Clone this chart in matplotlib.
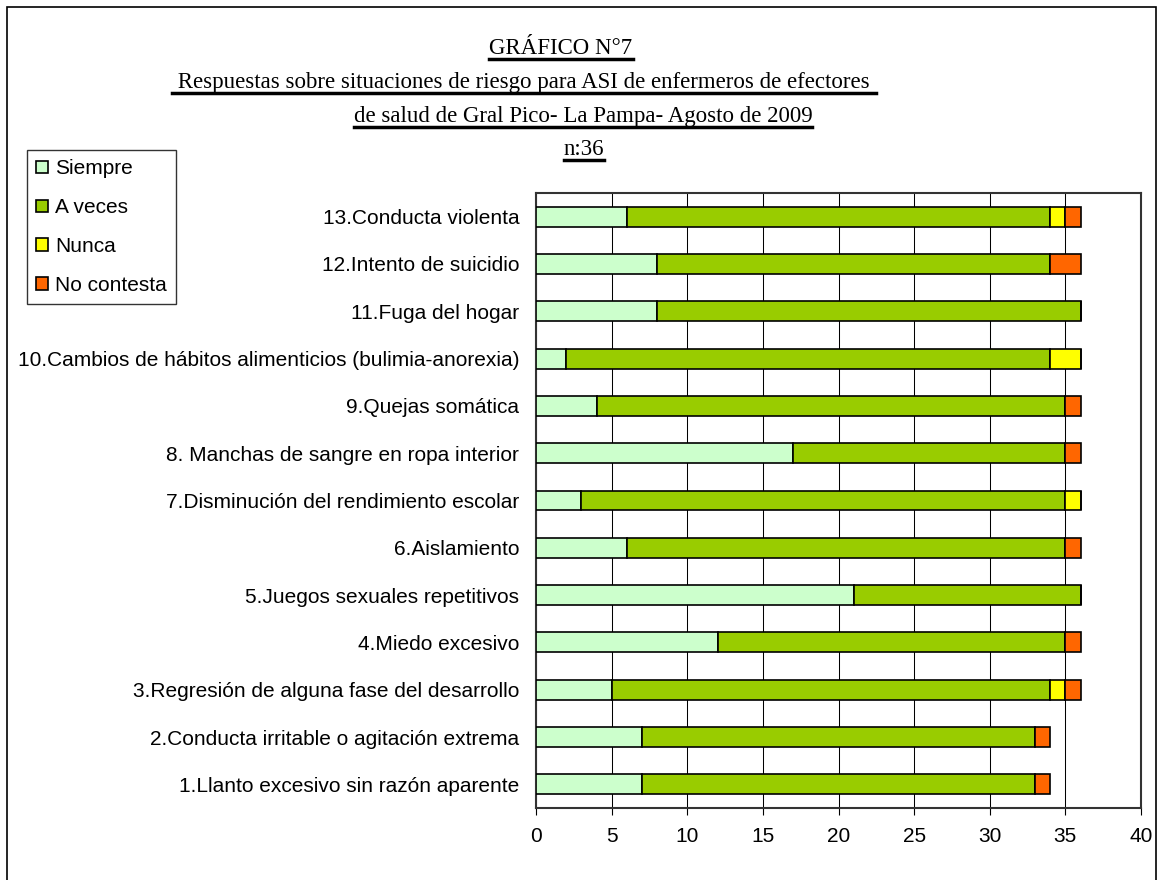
import numpy as np
import matplotlib.pyplot as plt
from matplotlib.lines import Line2D
from matplotlib.patches import Rectangle

categorias = [
    "1.Llanto excesivo sin razón aparente",
    "2.Conducta irritable o agitación extrema",
    "3.Regresión de alguna fase del desarrollo",
    "4.Miedo excesivo",
    "5.Juegos sexuales repetitivos",
    "6.Aislamiento",
    "7.Disminución del rendimiento escolar",
    "8. Manchas de sangre en ropa interior",
    "9.Quejas somática",
    "10.Cambios de hábitos alimenticios (bulimia-anorexia)",
    "11.Fuga del hogar",
    "12.Intento de suicidio",
    "13.Conducta violenta",
]
siempre = [7, 7, 5, 12, 21, 6, 3, 17, 4, 2, 8, 8, 6]
a_veces = [26, 26, 29, 23, 15, 29, 32, 18, 31, 32, 28, 26, 28]
nunca = [0, 0, 1, 0, 0, 0, 1, 0, 0, 2, 0, 0, 1]
no_contesta = [1, 1, 1, 1, 0, 1, 0, 1, 1, 0, 0, 2, 1]

series = [("Siempre", siempre, "#CCFFCC"),
          ("A veces", a_veces, "#99CC00"),
          ("Nunca", nunca, "#FFFF00"),
          ("No contesta", no_contesta, "#FF6600")]

titulo = ["GRÁFICO N°7",
          " Respuestas sobre situaciones de riesgo para ASI de enfermeros de efectores ",
          "de salud de Gral Pico- La Pampa- Agosto de 2009",
          "n:36"]
# centro x y linea base (px) de cada renglon del titulo
titulo_x = [561, 524, 583, 584]
titulo_base = [54, 88, 122, 155]

W, H = 1159, 880
fig = plt.figure(figsize=(W / 100, H / 100), dpi=100)
ax = fig.add_axes([536 / W, 1 - 808 / H, (1141 - 536) / W, (808 - 193) / H])

y = np.arange(len(categorias))
left = np.zeros(len(categorias))
handles = []
for nombre, vals, color in series:
    vals = np.array(vals, dtype=float)
    b = ax.barh(y, vals, left=left, height=0.42, color=color,
                edgecolor="black", linewidth=1.2, label=nombre, zorder=3)
    handles.append(b)
    left += vals

ax.set_xlim(0, 40)
ax.set_ylim(-0.5, len(categorias) - 0.5)
ax.set_xticks(range(0, 41, 5))
ax.set_yticks(y)
ax.set_yticklabels(categorias)
ax.tick_params(axis="y", length=0, pad=12, labelsize=15)
ax.tick_params(axis="x", length=5, pad=9, labelsize=15, direction="out")
for lbl in ax.get_xticklabels() + ax.get_yticklabels():
    lbl.set_family("Liberation Sans")
ax.grid(axis="x", color="black", linewidth=0.75, zorder=0)
ax.set_axisbelow(True)
for s in ax.spines.values():
    s.set_color("#333333")
    s.set_linewidth(1.5)

leg = fig.legend(handles=handles, loc="upper left",
                 bbox_to_anchor=(27 / W, 1 - 150 / H),
                 prop={"family": "Liberation Sans", "size": 15},
                 frameon=True, fancybox=False, edgecolor="black",
                 handlelength=0.55, handleheight=0.55, handletextpad=0.35,
                 labelspacing=0.95, borderpad=0.45, borderaxespad=0)
leg.get_frame().set_linewidth(1.0)

# titulo subrayado
textos = []
for t, xx, yy in zip(titulo, titulo_x, titulo_base):
    textos.append(fig.text(xx / W, 1 - yy / H, t, ha="center", va="baseline",
                           family="Liberation Serif", fontsize=16.5))
fig.canvas.draw()
r = fig.canvas.get_renderer()
for t, yy in zip(textos, titulo_base):
    bb = t.get_window_extent(renderer=r).transformed(fig.transFigure.inverted())
    yl = 1 - (yy + 5) / H
    fig.add_artist(Line2D([bb.x0, bb.x1], [yl, yl], transform=fig.transFigure,
                          color="black", linewidth=2.5))

# borde exterior
fig.add_artist(Rectangle((7 / W, -0.01), (1156 - 7) / W, 1 - 7 / H + 0.01,
                         transform=fig.transFigure, fill=False,
                         edgecolor="black", linewidth=1.2))

fig.savefig("out.png", dpi=100)
